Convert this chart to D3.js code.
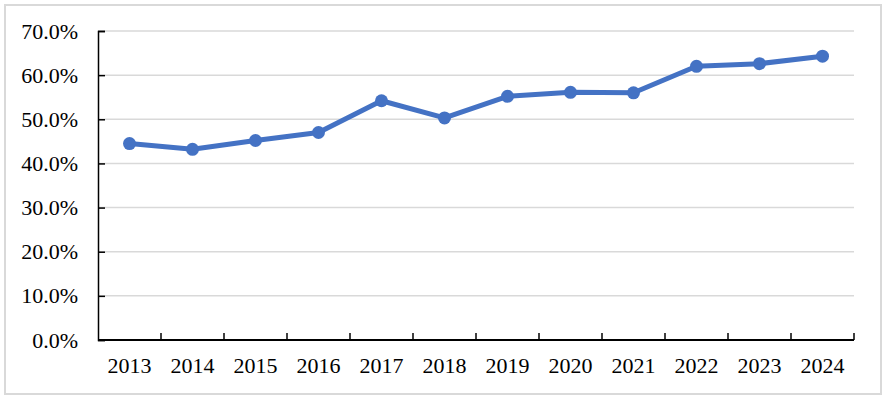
<!DOCTYPE html>
<html>
<head>
<meta charset="utf-8">
<script src="https://cdn.jsdelivr.net/npm/d3@7"></script>
<style>
  body { margin: 0; background: #fff; }
  svg { display: block; }
  svg text { font-family: "Liberation Serif", "Times New Roman", "DejaVu Serif", serif; font-size: 22px; }
</style>
</head>
<body>
<div id="chart"></div>
<script>
const years = ["2013", "2014", "2015", "2016", "2017", "2018", "2019", "2020", "2021", "2022", "2023", "2024"]
const rates = [44.5, 43.2, 45.2, 47.0, 54.2, 50.3, 55.2, 56.1, 56.0, 62.0, 62.6, 64.3]
const yTicks = [0, 10, 20, 30, 40, 50, 60, 70]

const W = 886, H = 399
const MARGIN = { top: 31, right: 32, bottom: 59, left: 98 }
const width = W - MARGIN.left - MARGIN.right
const height = H - MARGIN.top - MARGIN.bottom

const svg = d3.select("#chart").append("svg")
  .attr("width", W)
  .attr("height", H)

// outer frame
svg.append("rect")
  .attr("x", 5).attr("y", 5)
  .attr("width", W - 10).attr("height", H - 10)
  .attr("fill", "#fff")
  .attr("stroke", "#d9d9d9")
  .attr("stroke-width", 2)

const g = svg.append("g")
  .attr("transform", `translate(${MARGIN.left},${MARGIN.top})`)

const x = d3.scaleBand().domain(years).range([0, width])
const y = d3.scaleLinear().domain([0, 70]).range([height, 0])

// gridlines
g.append("g")
  .selectAll("line")
  .data(yTicks.filter(d => d > 0))
  .join("line")
  .attr("x1", 0).attr("x2", width)
  .attr("y1", d => y(d)).attr("y2", d => y(d))
  .attr("stroke", "#d9d9d9")
  .attr("stroke-width", 1.5)

// y axis
const yAxis = g.append("g")
  .call(d3.axisLeft(y).tickValues(yTicks).tickSize(-7).tickPadding(20)
    .tickFormat(d => d.toFixed(1) + "%"))
yAxis.attr("font-family", null).attr("font-size", null)
yAxis.select(".domain").attr("stroke", "#000").attr("stroke-width", 1.5)
yAxis.selectAll(".tick line").attr("stroke", "#000").attr("stroke-width", 1.5)
yAxis.selectAll("text").attr("fill", "#000")

// x axis with ticks on band boundaries
const xAxis = g.append("g")
  .attr("transform", `translate(0,${height})`)
xAxis.append("line")
  .attr("x1", 0).attr("x2", width)
  .attr("stroke", "#000").attr("stroke-width", 2)
xAxis.selectAll(".bt")
  .data(years.slice(1).concat(["end"]))
  .join("line")
  .attr("class", "bt")
  .attr("x1", (d, i) => i < years.length - 1 ? x(d) : width)
  .attr("x2", (d, i) => i < years.length - 1 ? x(d) : width)
  .attr("y1", 0).attr("y2", -7)
  .attr("stroke", "#000").attr("stroke-width", 1.5)
xAxis.selectAll(".lbl")
  .data(years)
  .join("text")
  .attr("class", "lbl")
  .attr("x", d => x(d) + x.bandwidth() / 2)
  .attr("y", 33)
  .attr("text-anchor", "middle")
  .attr("fill", "#000")
  .text(d => d)

const line = d3.line()
  .x((d, i) => x(years[i]) + x.bandwidth() / 2)
  .y(d => y(d))

g.append("path")
  .datum(rates)
  .attr("fill", "none")
  .attr("stroke", "#4472C4")
  .attr("stroke-width", 5)
  .attr("stroke-linejoin", "round")
  .attr("d", line)

g.selectAll(".dot")
  .data(rates)
  .join("circle")
  .attr("class", "dot")
  .attr("cx", (d, i) => x(years[i]) + x.bandwidth() / 2)
  .attr("cy", d => y(d))
  .attr("r", 6.5)
  .attr("fill", "#4472C4")
</script>
</body>
</html>
